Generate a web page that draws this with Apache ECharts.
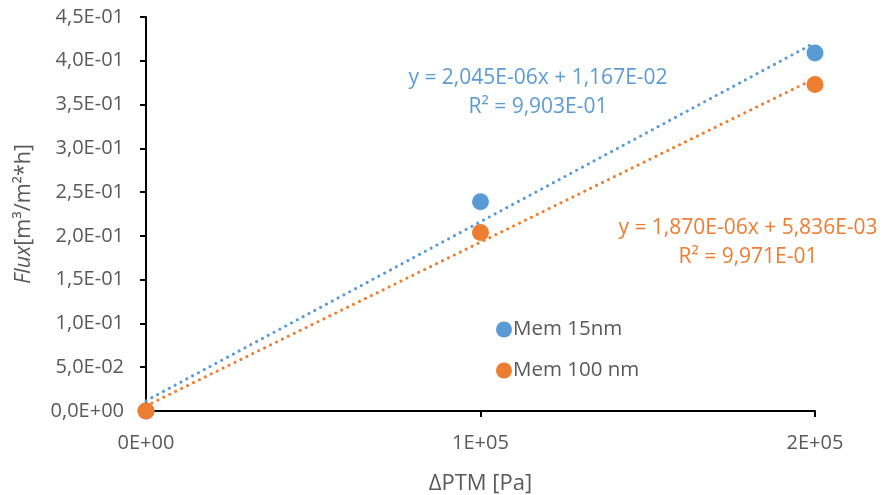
<!DOCTYPE html>
<html>
<head>
<meta charset="utf-8">
<script src="https://cdn.jsdelivr.net/npm/echarts@6/dist/echarts.min.js"></script>
<style>
html,body{margin:0;padding:0;background:#fff;}
#chart{width:885px;height:495px;}
</style>
</head>
<body>
<div id="chart"></div>
<script>
// Data
const pressures = [0, 100000, 200000];          // ΔPTM [Pa]
const flux15 = [0, 0.239, 0.409];               // Mem 15nm
const flux100 = [0, 0.204, 0.373];              // Mem 100 nm
// Linear trendlines shown on the chart (ends at x = 0 and x = 2E+05)
const trendX = [0, 200000];
const trend15 = [0.01167, 0.4207];
const trend100 = [0.005836, 0.3798];
const seriesNames = ['Mem 15nm', 'Mem 100 nm'];
const eq15 = ['y = 2,045E-06x + 1,167E-02', 'R² = 9,903E-01'];
const eq100 = ['y = 1,870E-06x + 5,836E-03', 'R² = 9,971E-01'];

const BLUE = '#5B9BD5', ORANGE = '#ED7D31', GRAY = '#595959';
const FONT = '"Open Sans", "Noto Sans", sans-serif';

function pairs(xs, ys){ return xs.map((x,i)=>[x, ys[i]]); }
function yFmt(v){
  if (v === 0) return '0,0E+00';
  let s = v.toExponential(1);
  let [m, e] = s.split('e');
  let sign = e[0] === '-' ? '-' : '+';
  let d = e.replace(/[+-]/,'');
  if (d.length < 2) d = '0' + d;
  return m.replace('.', ',') + 'E' + sign + d;
}
function xFmt(v){
  if (v === 0) return '0E+00';
  let s = v.toExponential(0);
  let [m, e] = s.split('e');
  let sign = e[0] === '-' ? '-' : '+';
  let d = e.replace(/[+-]/,'');
  if (d.length < 2) d = '0' + d;
  return m + 'E' + sign + d;
}

const chart = echarts.init(document.getElementById('chart'), null, {renderer:'canvas'});
const dotted = (c) => ({color:c, width:3, type:[0.1, 6.5], cap:'round'});

chart.setOption({
  animation:false,
  backgroundColor:'#fff',
  grid:{left:146, right:70, top:17, bottom:84, containLabel:false, outerBoundsMode:'none'},
  legend:{
    data:seriesNames,
    orient:'vertical',
    left:491, top:314,
    icon:'circle',
    itemWidth:16, itemHeight:16,
    itemGap:20,
    textStyle:{color:GRAY, fontSize:20.5, fontFamily:FONT, padding:[0,0,0,-4]}
  },
  xAxis:{
    type:'value', min:0, max:200000, interval:100000,
    name:'ΔPTM [Pa]', nameLocation:'middle', nameGap:62,
    nameTextStyle:{color:GRAY, fontSize:22, fontFamily:FONT},
    axisLine:{lineStyle:{color:'#000', width:2}},
    axisTick:{show:true, length:6, lineStyle:{color:'#000', width:2}},
    axisLabel:{color:GRAY, fontSize:20, fontFamily:FONT, margin:22, formatter:xFmt},
    splitLine:{show:false}
  },
  yAxis:{
    type:'value', min:0, max:0.45, interval:0.05,
    name:'{i|Flux}{n|[m³/m²*h]}', nameLocation:'middle', nameGap:111, nameRotate:90,
    nameTextStyle:{rich:{
      i:{color:GRAY, fontSize:21.5, fontFamily:FONT, fontStyle:'italic'},
      n:{color:GRAY, fontSize:21.5, fontFamily:FONT}
    }},
    axisLine:{show:true, lineStyle:{color:'#000', width:2}},
    axisTick:{show:true, length:6, lineStyle:{color:'#000', width:2}},
    axisLabel:{color:GRAY, fontSize:20, fontFamily:FONT, margin:22, formatter:yFmt},
    splitLine:{show:false}
  },
  series:[
    {name:seriesNames[0], type:'scatter', data:pairs(pressures, flux15), symbolSize:17,
     itemStyle:{color:BLUE, opacity:1}, z:3},
    {name:seriesNames[1], type:'scatter', data:pairs(pressures, flux100), symbolSize:17,
     itemStyle:{color:ORANGE, opacity:1}, z:3},
    {name:'trend15', type:'line', data:pairs(trendX, trend15), symbol:'none',
     lineStyle:dotted(BLUE), z:4, silent:true},
    {name:'trend100', type:'line', data:pairs(trendX, trend100), symbol:'none',
     lineStyle:dotted(ORANGE), z:4, silent:true}
  ],
  graphic:[
    {type:'text', id:'e15', x:538, y:64, style:{text:eq15.join('\n'), fill:BLUE, font:'21px '+FONT, align:'center', verticalAlign:'top', lineHeight:29}},
    {type:'text', id:'e100', x:748, y:214, style:{text:eq100.join('\n'), fill:ORANGE, font:'21px '+FONT, align:'center', verticalAlign:'top', lineHeight:29}}
  ]
});
</script>
</body>
</html>
